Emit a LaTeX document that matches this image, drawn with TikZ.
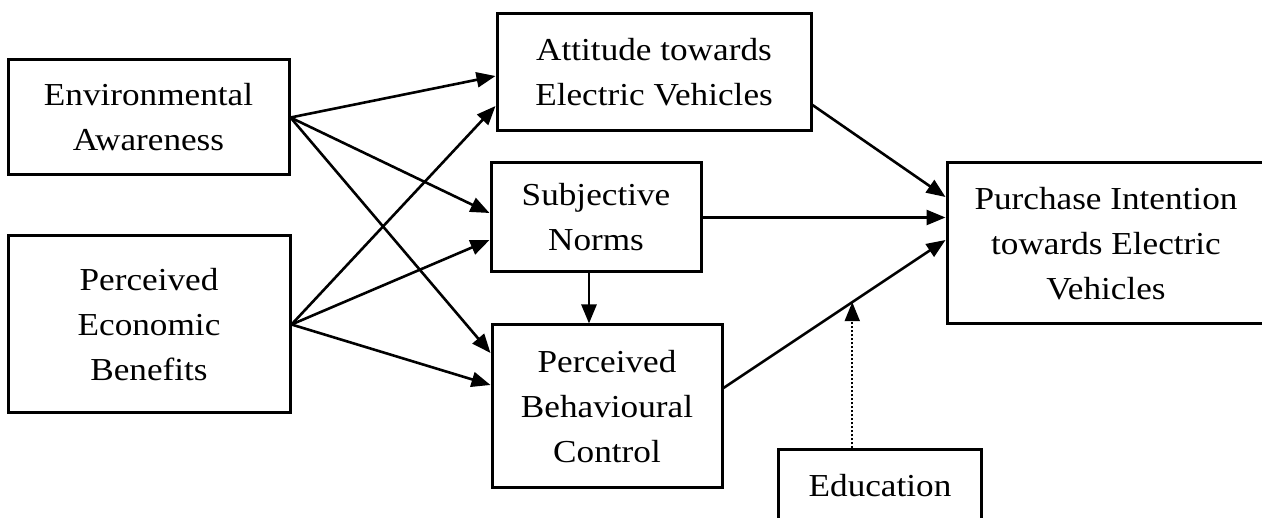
\documentclass[tikz,border=0pt]{standalone}
\usepackage{fontspec}
\setmainfont[FakeStretch=1.1]{Liberation Serif}
\usetikzlibrary{arrows.meta}

\tikzset{
  box/.style={draw, line width=3pt, align=center, inner sep=0pt, fill=white,
    font=\fontsize{32}{45}\selectfont},
  link/.style={line width=2.6pt, -{Triangle[length=19pt,width=15pt]}},
  modline/.style={line width=2pt, dash pattern=on 2pt off 2pt, -{Triangle[length=19pt,width=15pt]}}
}

\begin{document}
\begin{tikzpicture}[x=1pt,y=-1pt]
\useasboundingbox (0,0) rectangle (1262,518);
\clip (0,0) rectangle (1262,518);

\node[box, minimum width=281pt, minimum height=115pt] (ea) at (148.5,117.5) {Environmental\\Awareness};
\node[box, minimum width=282pt, minimum height=177pt] (peb) at (149,324.5) {Perceived\\Economic\\Benefits};
\node[box, minimum width=314pt, minimum height=117pt] (att) at (654,72.5) {Attitude towards\\Electric Vehicles};
\node[box, minimum width=210pt, minimum height=109pt] (sn) at (596,217.5) {Subjective\\Norms};
\node[box, minimum width=230pt, minimum height=163pt] (pbc) at (607,406.5) {Perceived\\Behavioural\\Control};
\node[box, minimum width=318pt, minimum height=161pt] (pi) at (1106,243.5) {Purchase Intention\\towards Electric\\Vehicles};
\node[box, minimum width=203pt, minimum height=72pt] (edu) at (880,486) {Education};

\draw[link] (ea.east) -- ([yshift=-3.5pt]att.west);
\draw[link] (ea.east) -- ([yshift=4.5pt]sn.west);
\draw[link] (ea.east) -- ([yshift=53.5pt]pbc.west);
\draw[link] (peb.east) -- ([yshift=-33.5pt]att.west);
\draw[link] (peb.east) -- ([yshift=-22.5pt]sn.west);
\draw[link] (peb.east) -- ([yshift=21.5pt]pbc.west);

\draw[link] ([xshift=-7pt]sn.south) -- ([xshift=-7pt]sn.south |- pbc.north);

\draw[link] ([yshift=-32.5pt]att.east) -- ([yshift=46.5pt]pi.west);
\draw[link] (sn.east) -- (sn.east -| pi.west);
\draw[link] ([yshift=18.5pt]pbc.east) -- coordinate[pos=0.58] (mod) ([yshift=3.5pt]pi.west);
\draw[modline] (mod |- edu.north) -- (mod);
\end{tikzpicture}
\end{document}
